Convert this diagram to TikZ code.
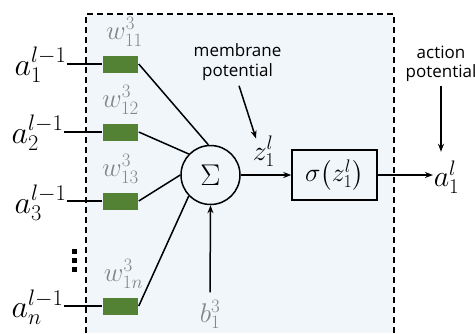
\RequirePackage{fix-cm}
\documentclass[tikz,border=0pt]{standalone}
\usepackage{amsmath}
\usepackage{fontspec}
\setmainfont{Open Sans}
\usetikzlibrary{arrows.meta, positioning, calc}
\definecolor{wgreen}{HTML}{548235}
\definecolor{cellbg}{HTML}{F1F6FB}
\definecolor{wgray}{HTML}{858585}

\begin{document}
\begin{tikzpicture}[x=1pt, y=-1pt, line width=1.5pt,
    >={Stealth[length=8pt, width=6pt]},
    wbox/.style={fill=wgreen, minimum width=35pt, minimum height=17pt, inner sep=0pt},
    inlbl/.style={font=\fontsize{32}{36}\selectfont, inner sep=0pt, anchor=base west},
    wlbl/.style={font=\fontsize{27}{31}\selectfont, text=wgray, inner sep=0pt, anchor=base},
    note/.style={font=\fontsize{17}{19.5}\selectfont, align=center, inner sep=0pt}]
    \useasboundingbox (0,0) rectangle (475,333);

    % Neuron body
    \fill[cellbg] (86,14) rectangle (394,333);
    \draw[dash pattern=on 6pt off 4pt] (86,333) -- (86,14) -- (394,14) -- (394,333);

    % Weights
    \node[wbox] (w1) at (120.5,64) {};
    \node[wbox] (w2) at (120.5,132) {};
    \node[wbox] (w3) at (120.5,201) {};
    \node[wbox] (wn) at (120.5,306) {};

    \node[wlbl] (lw1) at ($(w1.north)+(4,-15)$) {$w_{11}^3$};
    \node[wlbl] (lw2) at ($(w2.north)+(0,-15)$) {$w_{12}^3$};
    \node[wlbl] (lw3) at ($(w3.north)+(0,-15)$) {$w_{13}^3$};
    \node[wlbl] (lwn) at ($(wn.north)+(3,-15)$) {$w_{1n}^3$};

    % Inputs
    \node[inlbl] (a1) at (14,75) {$a_1^{l-1}$};
    \node[inlbl] (a2) at (11,143) {$a_2^{l-1}$};
    \node[inlbl] (a3) at (14,213) {$a_3^{l-1}$};
    \node[inlbl] (an) at (11,317) {$a_n^{l-1}$};
    \foreach \y in {251.5,260.5,269.5}
        \fill (71.5,\y-2.5) rectangle ++(5,5);

    \draw (a1.east |- w1) -- (w1);
    \draw (a2.east |- w2) -- (w2);
    \draw (a3.east |- w3) -- (w3);
    \draw (an.east |- wn) -- (wn);

    % Summation and activation
    \node[circle, draw, minimum size=59pt, inner sep=0pt,
          font=\fontsize{30}{34}\selectfont] (sum) at (210.5,175) {$\Sigma$};
    \node[draw, minimum width=85pt, minimum height=50pt, inner sep=0pt,
          font=\fontsize{26}{30}\selectfont] (act) at (334.5,175) {$\sigma\bigl(z_1^l\bigr)$};

    \draw (w1.east) -- (sum.94);
    \draw (w2.east) -- (sum.136);
    \draw (w3.east) -- (sum.180);
    \draw (wn.east) -- (sum.224);

    \node[wlbl] (b1) at (210,322) {$b_1^3$};
    \draw[->, shorten <=7pt] (b1.north) -- (sum.south);

    \node[inlbl, font=\fontsize{28}{32}\selectfont] (z1) at (252,160) {$z_1^l$};
    \draw[->] (sum) -- (act);

    \node[inlbl, font=\fontsize{30}{34}\selectfont] (aout) at (433,186) {$a_1^l$};
    \draw[->] (act.east) -- (act.east -| aout.west);

    % Annotations
    \node[note] (memnote) at (237.5,62) {membrane\\potential};
    \draw[->, shorten <=5pt] (memnote.south) -- ($(z1.north west)+(4,3)$);

    \node[note] (actnote) at (441,64) {action\\potential};
    \draw[->, shorten <=3pt, shorten >=8pt] (actnote.south) -- (actnote.south |- aout.north);
\end{tikzpicture}
\end{document}
